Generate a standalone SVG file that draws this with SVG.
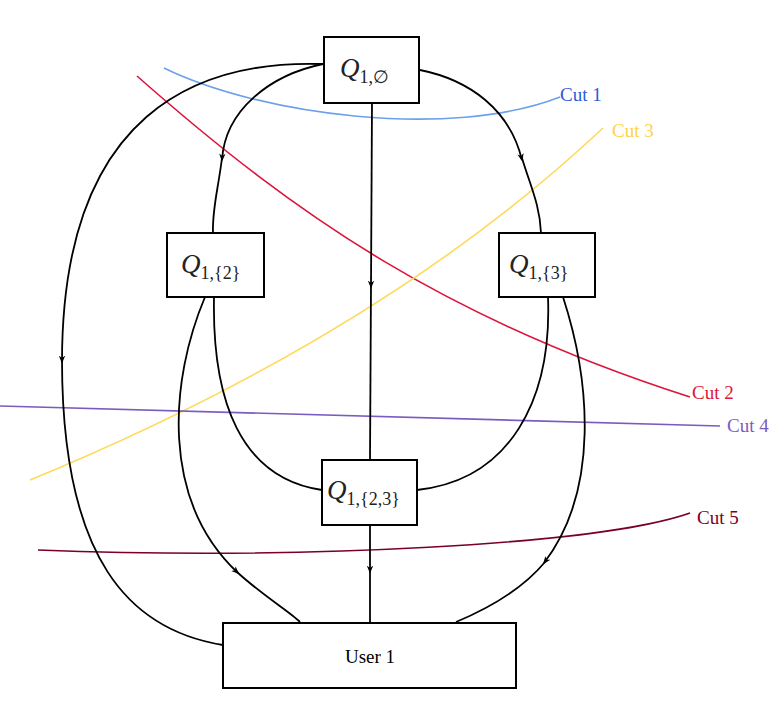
<svg xmlns="http://www.w3.org/2000/svg" width="781" height="703" viewBox="0 0 781 703">
<defs>
<marker id="arr" viewBox="0 0 10 10" refX="8" refY="5" markerWidth="8" markerHeight="8" markerUnits="userSpaceOnUse" orient="auto">
<path d="M0,1 L10,5 L0,9 L3,5 Z" fill="#000"/>
</marker>
<style>
.node rect{fill:#fff;stroke:#000;stroke-width:2}
.edge{fill:none;stroke:#000;stroke-width:1.8}
.cut{fill:none;stroke-width:1.6}
.q{font-family:"Liberation Serif","DejaVu Serif",serif;font-style:italic;font-size:27px;fill:#222}
.sub{font-family:"Liberation Serif","DejaVu Serif",serif;font-style:normal;font-size:18px}
.lbl{font-family:"Liberation Serif","DejaVu Serif",serif;font-size:19px}
</style>
</defs>
<g id="cuts">
<path class="cut" d="M164,68 C260,115 450,140 560,97" stroke="#6ca0ea"/>
<path class="cut" d="M137,76 C300,220 450,320 690,397" stroke="#dc143c"/>
<path class="cut" d="M30,480 C200,410 420,300 603,128" stroke="#ffd95a"/>
<path class="cut" d="M0,406 L720,426" stroke="#7a5cc0"/>
<path class="cut" d="M38,550 C300,560 600,545 690,513" stroke="#7a0026"/>
<text class="lbl" x="560" y="101" fill="#2a5bd7">Cut 1</text>
<text class="lbl" x="692" y="399" fill="#dc143c">Cut 2</text>
<text class="lbl" x="612" y="137" fill="#ffd24d">Cut 3</text>
<text class="lbl" x="727" y="432" fill="#7a5cc0">Cut 4</text>
<text class="lbl" x="697" y="524" fill="#7a0026">Cut 5</text>
</g>
<g id="connectors">
<path class="edge" d="M323,64 C200,60 62,110 62,362" marker-end="url(#arr)"/>
<path class="edge" d="M62,360 C62,560 130,630 223,645"/>
<path class="edge" d="M323,64 C270,75 225,110 222,160" marker-end="url(#arr)"/>
<path class="edge" d="M222,158 C218,190 212,210 213,233"/>
<path class="edge" d="M420,70 C470,80 510,110 522,160" marker-end="url(#arr)"/>
<path class="edge" d="M522,158 C530,185 540,205 541,233"/>
<path class="edge" d="M372,103 L371,287" marker-end="url(#arr)"/>
<path class="edge" d="M371,285 L370,460"/>
<path class="edge" d="M214,297 C212,400 240,478 322,490"/>
<path class="edge" d="M548,297 C552,400 510,480 417,490"/>
<path class="edge" d="M205,297 C170,380 160,500 238,573" marker-end="url(#arr)"/>
<path class="edge" d="M237,572 C262,595 290,612 300,622"/>
<path class="edge" d="M563,297 C590,380 600,490 544,563" marker-end="url(#arr)"/>
<path class="edge" d="M545,562 C520,592 480,612 456,622"/>
<path class="edge" d="M370,525 L370,572" marker-end="url(#arr)"/>
<path class="edge" d="M370,570 L370,623"/>
</g>
<g id="q_empty" class="node">
<rect x="324" y="37" width="95" height="66"/>
<text class="q" x="340" y="77">Q<tspan class="sub" dy="6">1,∅</tspan></text>
</g>
<g id="q_2" class="node">
<rect x="167" y="233" width="97" height="64"/>
<text class="q" x="181" y="273">Q<tspan class="sub" dy="6">1,{2}</tspan></text>
</g>
<g id="q_3" class="node">
<rect x="499" y="233" width="96" height="64"/>
<text class="q" x="509" y="273">Q<tspan class="sub" dy="6">1,{3}</tspan></text>
</g>
<g id="q_23" class="node">
<rect x="322" y="460" width="95" height="65"/>
<text class="q" x="327" y="499">Q<tspan class="sub" dy="6">1,{2,3}</tspan></text>
</g>
<g id="user1" class="node">
<rect x="223" y="623" width="293" height="65"/>
<text class="lbl" x="370" y="663" text-anchor="middle" fill="#000">User 1</text>
</g>
</svg>
